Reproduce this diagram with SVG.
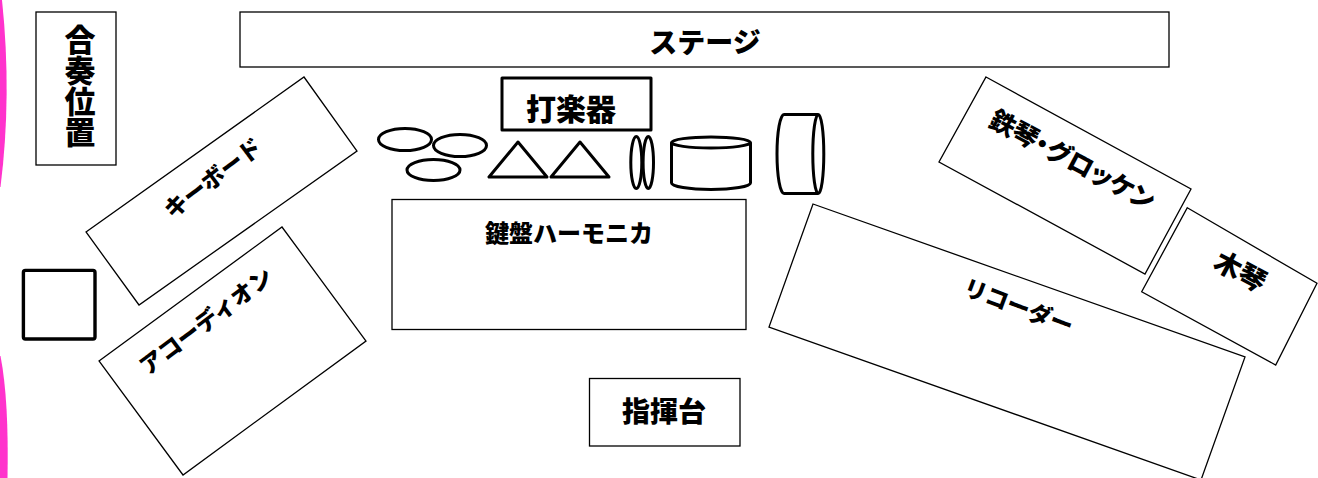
<svg xmlns="http://www.w3.org/2000/svg" width="1318" height="478" viewBox="0 0 1318 478">
<style>
  .thin { fill: #ffffff; stroke: #000000; stroke-width: 1.3; }
  .thick { fill: #ffffff; stroke: #000000; stroke-width: 3; stroke-linejoin: round; }
  .lbl { font-family: "Noto Sans CJK JP", "Noto Sans", sans-serif; font-weight: 900; fill: #000000; text-anchor: middle; dominant-baseline: central; }
  .palt { font-feature-settings: "palt" 1; }
</style>
<rect x="0" y="0" width="1318" height="478" fill="#ffffff"/>
<g id="edge">
  <path d="M0,0 L2,0 Q12,95 0.5,187 L0,187 Z" fill="#ff33cc"/>
  <path d="M0,356 L0.5,356 Q9,400 7.5,478 L0,478 Z" fill="#ff33cc"/>
</g>
<g id="position">
  <rect class="thin" x="36" y="12" width="80" height="153" stroke="#333"/>
  <text class="lbl" x="80" y="86" font-size="31" style="writing-mode: vertical-rl;">合奏位置</text>
</g>
<g id="stage">
  <rect class="thin" x="240" y="12" width="929" height="55"/>
  <text class="lbl" x="705" y="41" font-size="28">ステージ</text>
</g>
<g id="keyboard">
  <polygon class="thin" points="86,232 304,77 357,151 139,305"/>
  <text class="lbl" x="0" y="0" font-size="23" transform="translate(212,177) rotate(-37)">キーボード</text>
</g>
<g id="accordion">
  <polygon class="thin" points="99,361 282,227 366,341 183,475"/>
  <text class="lbl" x="0" y="0" font-size="23" transform="translate(205,320) rotate(-37)">アコーディオン</text>
</g>
<g id="square">
  <rect x="23.4" y="270.4" width="71.6" height="68.6" rx="2" fill="#ffffff" stroke="#000" stroke-width="3.4"/>
</g>
<g id="percussion">
  <rect class="thick" x="502" y="78" width="149" height="52"/>
  <text class="lbl" x="571" y="107" font-size="30">打楽器</text>
</g>
<g id="cymbals">
  <ellipse class="thick" cx="405" cy="139.5" rx="26.5" ry="11"/>
  <ellipse class="thick" cx="460" cy="145.5" rx="26.5" ry="11"/>
  <ellipse class="thick" cx="433.5" cy="170" rx="26.5" ry="10.5"/>
</g>
<g id="triangles">
  <polygon class="thick" points="489,177 547,177 518,142"/>
  <polygon class="thick" points="551,177 609,177 580,142"/>
</g>
<g id="hoops">
  <ellipse class="thick" cx="636.3" cy="162.5" rx="5.5" ry="26"/>
  <ellipse class="thick" cx="648.3" cy="162.5" rx="5.2" ry="26"/>
</g>
<g id="drum">
  <path class="thick" d="M671.5,142.5 L671.5,183 A39.5,6.5 0 0 0 750.5,183 L750.5,142.5"/>
  <ellipse class="thick" cx="711" cy="142.5" rx="39.5" ry="5.5"/>
</g>
<g id="bassdrum">
  <path class="thick" d="M818,114.5 L784,114.5 A7,39.5 0 0 0 784,193.5 L818,193.5"/>
  <ellipse class="thick" cx="818.3" cy="154" rx="5.5" ry="39.5"/>
</g>
<g id="harmonica">
  <rect class="thin" x="392" y="199.5" width="354" height="130"/>
  <text class="lbl" x="569" y="231" font-size="24">鍵盤ハーモニカ</text>
</g>
<g id="conductor">
  <rect class="thin" x="589.5" y="378.5" width="150.5" height="67.5"/>
  <text class="lbl" x="664" y="410" font-size="28">指揮台</text>
</g>
<g id="glocken">
  <polygon class="thin" points="986,77 1191,189 1145,274 939,162"/>
  <text class="lbl palt" x="0" y="0" font-size="25.5" transform="translate(1073,158) rotate(28)">鉄琴・グロッケン</text>
</g>
<g id="xylophone">
  <polygon class="thin" points="1187.3,207.7 1317,283.3 1275.7,365 1141.7,291.7"/>
  <text class="lbl" x="0" y="0" font-size="27" transform="translate(1241,270) rotate(28)">木琴</text>
</g>
<g id="recorder">
  <polygon class="thin" points="813,204 1245,357 1201,480 769,327"/>
  <text class="lbl" x="0" y="0" font-size="23" transform="translate(1019,305) rotate(20.5)">リコーダー</text>
</g>
</svg>
